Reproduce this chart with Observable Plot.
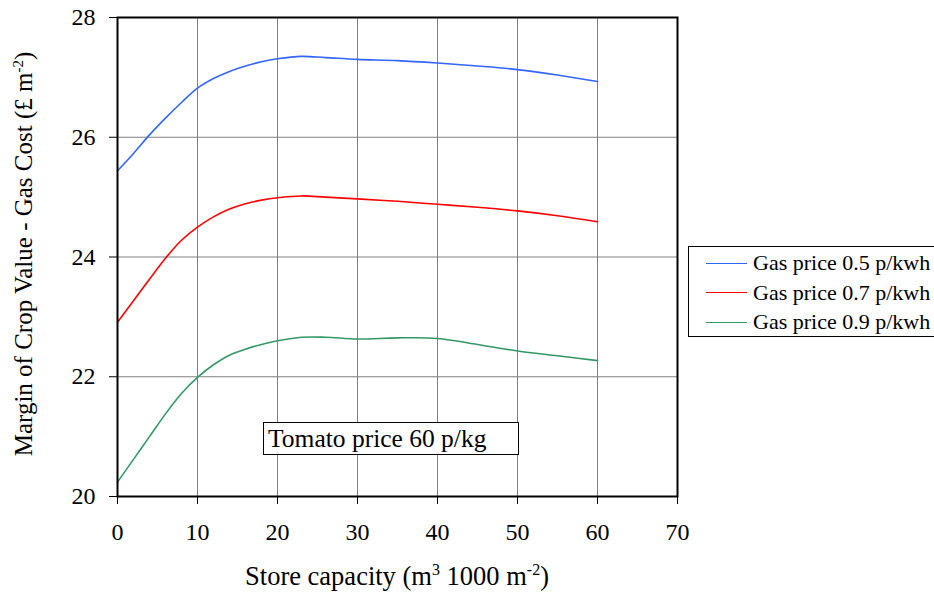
<!DOCTYPE html>
<html>
<head>
<meta charset="utf-8">
<script src="https://cdn.jsdelivr.net/npm/d3@7"></script>
<script src="https://cdn.jsdelivr.net/npm/@observablehq/plot@0.6"></script>
<style>
  html, body { margin: 0; padding: 0; background: #fff; }
  #wrap { position: relative; width: 934px; height: 596px; font-family: "Liberation Serif", "Times New Roman", serif; }
  #wrap svg, #wrap svg text, #wrap svg tspan { font-family: "Liberation Serif", "Times New Roman", serif !important; }
  #legend { position: absolute; left: 688px; top: 246px; width: 250px; height: 91px; box-sizing: border-box;
            border: 1px solid #000; background: #fff; font-family: "Liberation Serif", "Times New Roman", serif; }
  .row { position: absolute; left: 0; height: 26px; display: flex; align-items: center; font-size: 22px; white-space: nowrap; }
  .sw { display: inline-block; width: 41px; height: 0; border-top: 1.5px solid; margin-left: 17px; margin-right: 6px; }
  #note { position: absolute; left: 263px; top: 422px; width: 256px; height: 33px; box-sizing: border-box;
          border: 1px solid #000; background: #fff; font-size: 25.5px; line-height: 31px; padding-left: 4px; white-space: nowrap;
          font-family: "Liberation Serif", "Times New Roman", serif; }
</style>
</head>
<body>
<div id="wrap"></div>
<script>
const capacity = [0, 2, 4, 6, 8, 10, 12, 14, 16, 18, 20, 23, 26, 30, 35, 40, 45, 50, 55, 60];
const gas05 = [25.44, 25.73, 26.04, 26.32, 26.58, 26.82, 26.98, 27.10, 27.19, 27.26, 27.31, 27.35, 27.33, 27.30, 27.28, 27.24, 27.19, 27.13, 27.04, 26.93];
const gas07 = [22.91, 23.27, 23.63, 23.98, 24.28, 24.50, 24.67, 24.80, 24.89, 24.95, 24.99, 25.02, 25.00, 24.97, 24.93, 24.88, 24.83, 24.77, 24.69, 24.59];
const gas09 = [20.24, 20.62, 21.00, 21.38, 21.72, 21.99, 22.20, 22.36, 22.46, 22.54, 22.60, 22.66, 22.66, 22.63, 22.65, 22.64, 22.54, 22.43, 22.35, 22.27];
const seriesNames = ["Gas price 0.5 p/kwh", "Gas price 0.7 p/kwh", "Gas price 0.9 p/kwh"];
const seriesColors = ["#3366ff", "#ff0000", "#339966"];
const xTicks = [0, 10, 20, 30, 40, 50, 60, 70];
const yTicks = [20, 22, 24, 26, 28];
const noteText = "Tomato price 60 p/kg";

const allSeries = [gas05, gas07, gas09];
const rows = [];
allSeries.forEach((vals, i) => vals.forEach((v, j) => rows.push({x: capacity[j], y: v, s: seriesNames[i]})));

const chart = Plot.plot({
  width: 934,
  height: 596,
  marginLeft: 117,
  marginRight: 257,
  marginTop: 17,
  marginBottom: 100,
  style: { fontFamily: "'Liberation Serif', 'Times New Roman', serif", fontSize: "24px", background: "#fff", overflow: "visible" },
  x: { domain: [0, 70] },
  y: { domain: [20, 28] },
  color: { domain: seriesNames, range: seriesColors },
  marks: [
    Plot.gridX(xTicks, { stroke: "#808080", strokeOpacity: 1, strokeWidth: 1 }),
    Plot.gridY(yTicks, { stroke: "#808080", strokeOpacity: 1, strokeWidth: 1 }),
    Plot.axisX({ ticks: xTicks, tickSize: 8, tickPadding: 18, fontSize: 24, label: null, stroke: "#000" }),
    Plot.axisY({ ticks: yTicks, tickSize: 8, tickPadding: 14, fontSize: 24, label: null, stroke: "#000" }),
    Plot.line(rows, { x: "x", y: "y", z: "s", stroke: "s", strokeWidth: 1.6, curve: "catmull-rom" }),
    Plot.frame({ stroke: "#000", strokeWidth: 2 })
  ]
});

document.getElementById("wrap").appendChild(chart);

const svg = d3.select(chart);
// x-axis title
const xt = svg.append("text")
  .attr("x", 397).attr("y", 585)
  .attr("text-anchor", "middle")
  .attr("font-size", 26.5)
  .attr("fill", "#000");
xt.append("tspan").text("Store capacity (m");
xt.append("tspan").attr("dy", -10).attr("font-size", 16).text("3");
xt.append("tspan").attr("dy", 10).text(" 1000 m");
xt.append("tspan").attr("dy", -10).attr("font-size", 16).text("-2");
xt.append("tspan").attr("dy", 10).text(")");

// y-axis title
const yt = svg.append("text")
  .attr("transform", "translate(32,254) rotate(-90)")
  .attr("text-anchor", "middle")
  .attr("font-size", 25)
  .attr("fill", "#000");
yt.append("tspan").text("Margin of Crop Value - Gas Cost (£ m");
yt.append("tspan").attr("dy", -9).attr("font-size", 15).text("-2");
yt.append("tspan").attr("dy", 9).text(")");

// legend
const wrap = document.getElementById("wrap");
const legend = document.createElement("div");
legend.id = "legend";
seriesNames.forEach((name, i) => {
  const r = document.createElement("div");
  r.className = "row";
  r.style.top = (3 + i * 29.5) + "px";
  const sw = document.createElement("span");
  sw.className = "sw";
  sw.style.borderTopColor = seriesColors[i];
  r.appendChild(sw);
  r.appendChild(document.createTextNode(name));
  legend.appendChild(r);
});
wrap.appendChild(legend);

const note = document.createElement("div");
note.id = "note";
note.textContent = noteText;
wrap.appendChild(note);
</script>
</body>
</html>
